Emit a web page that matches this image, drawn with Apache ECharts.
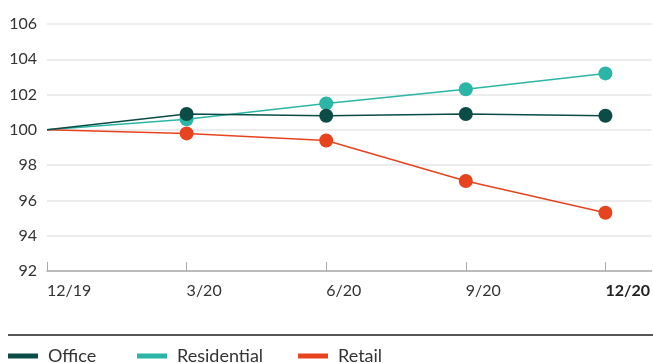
<!DOCTYPE html>
<html><head><meta charset="utf-8">
<script src="https://cdn.jsdelivr.net/npm/echarts@6/dist/echarts.min.js"></script>
<style>html,body{margin:0;padding:0;background:#fff}#c{width:653px;height:363px}</style>
</head><body><div id="c"></div>
<script>
var categories = ['12/19','3/20','6/20','9/20','12/20'];
var office = [100, 100.9, 100.8, 100.9, 100.8];
var residential = [100, 100.6, 101.5, 102.3, 103.2];
var retail = [100, 99.8, 99.4, 97.1, 95.3];
var yTicks = [92, 94, 96, 98, 100, 102, 104, 106];
var seriesNames = ['Office', 'Residential', 'Retail'];

function pts(arr){ return arr.map(function(v,i){ return [i, v]; }); }
var font = 'Lato';
var chart = echarts.init(document.getElementById('c'), null, {renderer:'canvas'});
function mk(name, data, color, z){
  return {
    name: name, type: 'line', data: pts(data), z: z,
    symbol: 'circle', symbolSize: function(v, p){ return p.dataIndex === 0 ? 0 : 14; },
    lineStyle: {color: color, width: 1.5},
    itemStyle: {color: color},
    emphasis: {disabled: true}
  };
}
function lg(name, left){
  return {
    left: left, top: 347, padding: 0, icon: 'rect', itemWidth: 30, itemHeight: 5,
    textStyle: {fontSize: 18, fontFamily: font, color: '#333', padding: [0,0,0,5]},
    data: [name]
  };
}
chart.setOption({
  animation: false,
  grid: {left: 47, right: 0, top: 24, bottom: 92},
  xAxis: {
    type: 'value', min: 0, max: 4.33, interval: 1,
    axisLine: {show: true, lineStyle: {color: '#aaaaaa', width: 1.5}},
    axisTick: {show: true, inside: true, length: 9, lineStyle: {color: '#aaaaaa', width: 1}},
    splitLine: {show: false},
    axisLabel: {
      align: 'left', margin: 12, fontSize: 16, fontFamily: font, color: '#333',
      showMaxLabel: false,
      formatter: function(v){
        var i = Math.round(v);
        if (Math.abs(v - i) > 1e-6 || i < 0 || i >= categories.length) return '';
        return i === categories.length - 1 ? '{b|' + categories[i] + '}' : categories[i];
      },
      rich: {b: {fontWeight: 'bold', fontSize: 16, fontFamily: font, color: '#222'}}
    }
  },
  yAxis: {
    type: 'value', min: yTicks[0], max: yTicks[yTicks.length-1], interval: 2,
    axisLine: {show: false}, axisTick: {show: false},
    splitLine: {show: true, lineStyle: {color: '#e6e6e6', width: 1.5}},
    axisLabel: {margin: 10, fontSize: 16, fontFamily: font, color: '#333'}
  },
  legend: [lg(seriesNames[0], 8), lg(seriesNames[1], 137), lg(seriesNames[2], 298)],
  graphic: [{
    type: 'line', shape: {x1: 8, y1: 335, x2: 653, y2: 335},
    style: {stroke: '#555555', lineWidth: 2}
  }],
  series: [
    mk(seriesNames[1], residential, '#2bb5a6', 2),
    mk(seriesNames[2], retail, '#e8431f', 3),
    mk(seriesNames[0], office, '#0c4c47', 4)
  ]
});
</script></body></html>
